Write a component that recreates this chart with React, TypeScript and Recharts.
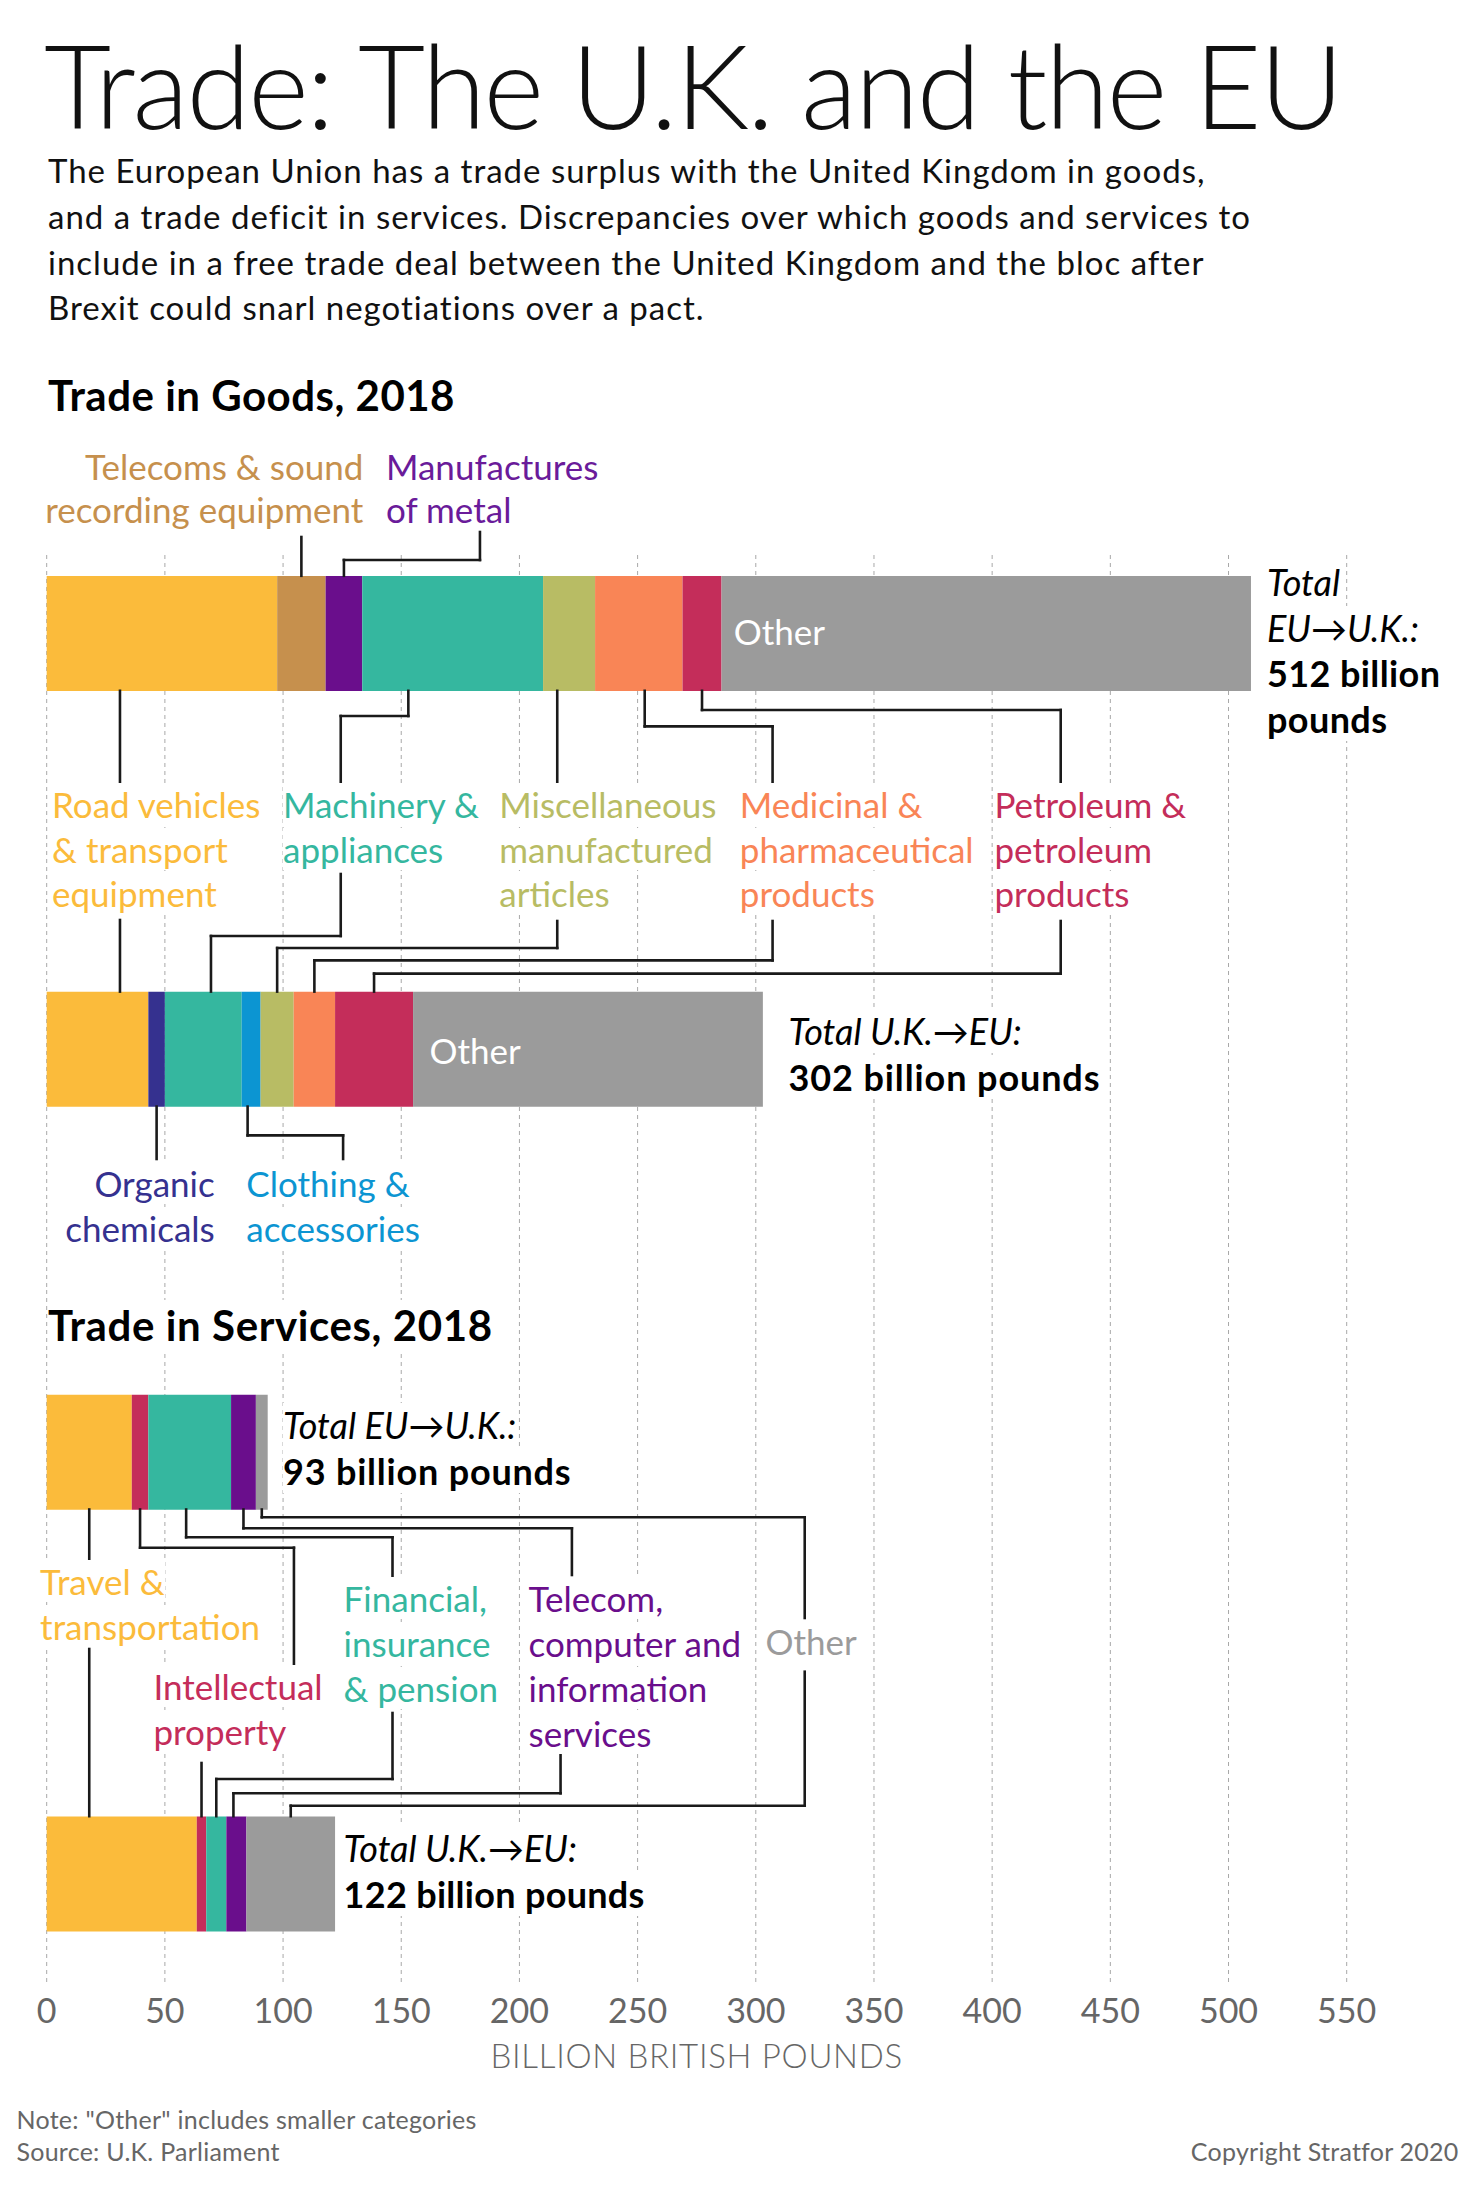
import React from "react";
import { BarChart, Bar, XAxis, YAxis, CartesianGrid, ReferenceLine } from "recharts";

const FONT = "Lato, 'Open Sans', 'DejaVu Sans', sans-serif";
const W = 1480;
const H = 2189;

// ---- data (billion British pounds, 2018) ----
const goodsKeys = ["road", "telecoms", "metal", "organic", "machinery", "clothing", "misc", "medicinal", "petroleum", "other"];
const goodsColors = ["#FBBB3B", "#C6904D", "#6A0E8C", "#35318F", "#35B79F", "#0C95D2", "#B8BC64", "#F98556", "#C42D5A", "#9B9B9B"];
const goodsEuToUk = [97.5, 20.5, 15.5, 0, 76.5, 0, 22, 37, 16.5, 224];
const goodsUkToEu = [43, 0, 0, 7, 32.5, 8, 14, 17.5, 33, 148];

const servicesKeys = ["travel", "ip", "financial", "telecom", "other"];
const servicesColors = ["#FBBB3B", "#C42D5A", "#35B79F", "#6A0E8C", "#9B9B9B"];
const servicesEuToUk = [36, 7, 35, 10.5, 5];
const servicesUkToEu = [63.5, 4, 8.5, 8.5, 37.5];

const xTicks = [0, 50, 100, 150, 200, 250, 300, 350, 400, 450, 500, 550];

// ---- layout ----
const LEFT = 46.7;
const RIGHT = W - 1346.7;
const GRID_TOP = 555;
const SPLIT = 1290;
const AXIS_Y = 1986;
const BAR = 115;
const goodsCenters = [633.3, 1049.1];
const servicesCenters = [1452, 1873.7];

function makeRow(name: string, keys: string[], values: number[]) {
  const r: Record<string, any> = { name };
  keys.forEach((k, i) => (r[k] = values[i]));
  return r;
}
function rows(keys: string[], a: number[], b: number[]) {
  const zero = keys.map(() => 0);
  return [makeRow("EU→U.K.", keys, a), makeRow("gap1", keys, zero), makeRow("gap2", keys, zero), makeRow("U.K.→EU", keys, b)];
}
// midpoint of a stacked segment
function mid(values: number[], i: number) {
  let s = 0;
  for (let j = 0; j < i; j++) s += values[j];
  return s + values[i] / 2;
}
const gi = (k: string) => goodsKeys.indexOf(k);
const si = (k: string) => servicesKeys.indexOf(k);

const gTop1 = goodsCenters[0] - BAR / 2;
const gBot1 = goodsCenters[0] + BAR / 2;
const gTop2 = goodsCenters[1] - BAR / 2;
const gBot2 = goodsCenters[1] + BAR / 2;
const sBot3 = servicesCenters[0] + BAR / 2;
const sTop4 = servicesCenters[1] - BAR / 2;

type Pt = [number, number];
const goodsLeaders: Pt[][] = [
  [[mid(goodsEuToUk, gi("telecoms")), 537], [mid(goodsEuToUk, gi("telecoms")), gTop1]],
  [[mid(goodsEuToUk, gi("metal")), gTop1], [mid(goodsEuToUk, gi("metal")), 560], [183.3, 560], [183.3, 532]],
  [[31, gBot1], [31, 784]],
  [[153, gBot1], [153, 716], [124.4, 716], [124.4, 783]],
  [[216, gBot1], [216, 784]],
  [[253, gBot1], [253, 726.4], [307.1, 726.4], [307.1, 783]],
  [[mid(goodsEuToUk, gi("petroleum")), gBot1], [mid(goodsEuToUk, gi("petroleum")), 710], [429, 710], [429, 783]],
  [[31, 920], [31, gTop2]],
  [[124.4, 874], [124.4, 936], [69.5, 936], [69.5, gTop2]],
  [[216, 921], [216, 948], [mid(goodsUkToEu, gi("misc")), 948], [mid(goodsUkToEu, gi("misc")), gTop2]],
  [[307.1, 921], [307.1, 960.4], [mid(goodsUkToEu, gi("medicinal")), 960.4], [mid(goodsUkToEu, gi("medicinal")), gTop2]],
  [[429, 921], [429, 973.6], [mid(goodsUkToEu, gi("petroleum")), 973.6], [mid(goodsUkToEu, gi("petroleum")), gTop2]],
  [[mid(goodsUkToEu, gi("organic")), gBot2], [mid(goodsUkToEu, gi("organic")), 1159]],
  [[85, gBot2], [85, 1135.4], [125.4, 1135.4], [125.4, 1159]],
];

const servicesLeaders: Pt[][] = [
  [[mid(servicesEuToUk, si("travel")), sBot3], [mid(servicesEuToUk, si("travel")), 1567]],
  [[mid(servicesEuToUk, si("travel")), 1649], [mid(servicesEuToUk, si("travel")), sTop4]],
  [[mid(servicesEuToUk, si("ip")), sBot3], [mid(servicesEuToUk, si("ip")), 1547.7], [104.6, 1547.7], [104.6, 1675]],
  [[mid(servicesUkToEu, si("ip")), 1763], [mid(servicesUkToEu, si("ip")), sTop4]],
  [[59, sBot3], [59, 1537.3], [146.3, 1537.3], [146.3, 1580]],
  [[146.3, 1713], [146.3, 1779], [mid(servicesUkToEu, si("financial")), 1779], [mid(servicesUkToEu, si("financial")), sTop4]],
  [[mid(servicesEuToUk, si("telecom")), sBot3], [mid(servicesEuToUk, si("telecom")), 1528.3], [222.2, 1528.3], [222.2, 1575]],
  [[217.4, 1752.7], [217.4, 1793.3], [79, 1793.3], [79, sTop4]],
  [[mid(servicesEuToUk, si("other")), sBot3], [mid(servicesEuToUk, si("other")), 1517.3], [320.7, 1517.3], [320.7, 1618]],
  [[320.7, 1671.7], [320.7, 1805.7], [mid(servicesUkToEu, si("other")), 1805.7], [mid(servicesUkToEu, si("other")), sTop4]],
];

interface SectionProps {
  keys: string[];
  colors: string[];
  data: Record<string, any>[];
  centers: number[];
  top: number;
  bottom: number;
  leaders: Pt[][];
  showAxis: boolean;
}

function Section({ keys, colors, data, centers, top, bottom, leaders, showAxis }: SectionProps) {
  const band = (centers[1] - centers[0]) / 3;
  const padTop = centers[0] - band / 2 - top;
  const padBottom = bottom - (top + padTop + 4 * band);
  const axisH = showAxis ? 30 : 0;
  return (
    <div style={{ position: "absolute", left: 0, top: 0 }}>
      <BarChart
        width={W}
        height={H}
        data={data}
        layout="vertical"
        margin={{ top, bottom: H - bottom - axisH, left: LEFT, right: RIGHT }}
      >
        <CartesianGrid horizontal={false} strokeDasharray="4 4" stroke="#a8a8a8" />
        <XAxis
          type="number"
          domain={[0, 550]}
          ticks={xTicks}
          hide={!showAxis}
          height={30}
          axisLine={false}
          tickLine={false}
          tickSize={6}
          tickMargin={7}
          tick={{ fill: "#666", fontSize: 34, fontFamily: FONT, fontWeight: 400 }}
        />
        <YAxis yAxisId="cat" type="category" dataKey="name" hide padding={{ top: padTop, bottom: padBottom }} />
        {/* helper axis for the leader lines: value = vertical page position */}
        <YAxis yAxisId="ann" type="number" dataKey="annY" domain={[top, bottom]} hide allowDataOverflow />
        {keys.map((k, i) => (
          <Bar key={k} dataKey={k} stackId="s" yAxisId="cat" fill={colors[i]} barSize={BAR} isAnimationActive={false} />
        ))}
        {leaders.flatMap((path, p) =>
          path.slice(1).map((pt, j) => (
            <ReferenceLine
              key={`l${p}-${j}`}
              yAxisId="ann"
              segment={[
                { x: path[j][0], y: path[j][1] },
                { x: pt[0], y: pt[1] },
              ]}
              stroke="#1a1a1a"
              strokeWidth={2.6}
              strokeLinecap="square"
              ifOverflow="visible"
            />
          ))
        )}
      </BarChart>
    </div>
  );
}

type Line = string | { t: string; w?: number; i?: boolean; ls?: number };
interface LabelProps {
  x: number;
  base: number;
  lines: Line[];
  color?: string;
  size?: number;
  lh?: number;
  weight?: number;
  italic?: boolean;
  align?: "left" | "right";
  bg?: boolean;
  ls?: number;
}

// positions text by its first baseline (Lato metrics: ascent .987, descent .213)
function Label({ x, base, lines, color = "#111", size = 35, lh = 44.6, weight = 400, italic = false, align = "left", bg = true, ls = 0 }: LabelProps) {
  const top = base - (lh - 1.2 * size) / 2 - 0.987 * size;
  const style: React.CSSProperties = {
    position: "absolute",
    top,
    fontFamily: FONT,
    fontSize: size,
    lineHeight: `${lh}px`,
    color,
    fontWeight: weight,
    fontStyle: italic ? "italic" : "normal",
    whiteSpace: "nowrap",
    textAlign: align,
    letterSpacing: ls,
  };
  if (align === "right") style.right = W - x;
  else style.left = x;
  return (
    <div style={style}>
      {lines.map((l, i) => {
        const o = typeof l === "string" ? { t: l } : l;
        return (
          <React.Fragment key={i}>
            <span
              style={{
                background: bg ? "#fff" : undefined,
                fontWeight: o.w ?? weight,
                fontStyle: o.i === undefined ? undefined : o.i ? "italic" : "normal",
                letterSpacing: o.ls ?? ls,
              }}
            >
              {o.t}
            </span>
            {i < lines.length - 1 && <br />}
          </React.Fragment>
        );
      })}
    </div>
  );
}

export default function App() {
  const goodsData = rows(goodsKeys, goodsEuToUk, goodsUkToEu);
  const servicesData = rows(servicesKeys, servicesEuToUk, servicesUkToEu);
  return (
    <div style={{ position: "absolute", left: 0, top: 0, width: W, height: H, background: "#fff", overflow: "hidden", fontFamily: FONT }}>
      <Section keys={goodsKeys} colors={goodsColors} data={goodsData} centers={goodsCenters} top={GRID_TOP} bottom={SPLIT} leaders={goodsLeaders} showAxis={false} />
      <Section keys={servicesKeys} colors={servicesColors} data={servicesData} centers={servicesCenters} top={SPLIT} bottom={AXIS_Y} leaders={servicesLeaders} showAxis />

      <Label x={44} base={130} size={116} lh={130} weight={300} color="#111" bg={false} ls={-2.2} lines={["Trade: The U.K. and the EU"]} />
      <Label
        x={48}
        base={184}
        size={33}
        lh={45.7}
        color="#111"
        bg={false}
        ls={1}
        lines={[
          "The European Union has a trade surplus with the United Kingdom in goods,",
          "and a trade deficit in services. Discrepancies over which goods and services to",
          "include in a free trade deal between the United Kingdom and the bloc after",
          "Brexit could snarl negotiations over a pact.",
        ]}
      />
      <Label x={48} base={411.7} size={42} lh={50} weight={700} color="#000" ls={0.5} lines={["Trade in Goods, 2018"]} />
      <Label x={48} base={1341} size={42} lh={50} weight={700} color="#000" ls={0.6} lines={["Trade in Services, 2018"]} />

      {/* goods labels */}
      <Label x={363.4} base={480} align="right" color="#C6904D" lh={43.3} lines={["Telecoms & sound", "recording equipment"]} />
      <Label x={386} base={480} color="#6A1B9A" lh={43.3} lines={["Manufactures", "of metal"]} />
      <Label x={52} base={818} color="#FBBB3B" lines={["Road vehicles", "& transport", "equipment"]} />
      <Label x={283} base={818} color="#35B79F" lines={["Machinery &", "appliances"]} />
      <Label x={499.3} base={818} color="#B8BC64" lines={["Miscellaneous", "manufactured", "articles"]} />
      <Label x={739.8} base={818} color="#F98556" lines={["Medicinal &", "pharmaceutical", "products"]} />
      <Label x={994.5} base={818} color="#C42D5A" lines={["Petroleum &", "petroleum", "products"]} />
      <Label x={214.7} base={1196.8} align="right" color="#35318F" lines={["Organic", "chemicals"]} />
      <Label x={246.3} base={1196.8} color="#0C95D2" lines={["Clothing &", "accessories"]} />
      <Label x={733.8} base={645} color="#fff" bg={false} lines={["Other"]} />
      <Label x={429.5} base={1063.6} color="#fff" bg={false} lines={["Other"]} />

      <Label
        x={1267}
        base={596.7}
        size={36}
        lh={45.5}
        color="#000"
        lines={[{ t: "Total", i: true }, { t: "EU→U.K.:", i: true }, { t: "512 billion", w: 700, ls: 0.4 }, { t: "pounds", w: 700, ls: 0.4 }]}
      />
      <Label x={788.5} base={1045} size={36} lh={46} color="#000" lines={[{ t: "Total U.K.→EU:", i: true }, { t: "302 billion pounds", w: 700, ls: 0.9 }]} />

      {/* services labels */}
      <Label x={283} base={1439} size={36} lh={46} color="#000" lines={[{ t: "Total EU→U.K.:", i: true }, { t: "93 billion pounds", w: 700, ls: 0.8 }]} />
      <Label x={343.6} base={1861.7} size={36} lh={46} color="#000" lines={[{ t: "Total U.K.→EU:", i: true }, { t: "122 billion pounds", w: 700, ls: 0.3 }]} />
      <Label x={40.1} base={1595} color="#FBBB3B" lh={44.5} lines={["Travel &", "transportation"]} />
      <Label x={153.4} base={1700} color="#C42D5A" lh={45} lines={["Intellectual", "property"]} />
      <Label x={343.6} base={1611.7} color="#35B79F" lh={45} lines={["Financial,", "insurance", "& pension"]} />
      <Label x={528.5} base={1611.7} color="#6A0E8C" lh={45} lines={["Telecom,", "computer and", "information", "services"]} />
      <Label x={765.5} base={1655} color="#9B9B9B" lines={["Other"]} />

      {/* axis title and footer */}
      <div style={{ position: "absolute", left: LEFT, width: 1346.7 - LEFT, top: 2073 - 43, textAlign: "center", fontSize: 33, lineHeight: "50px", color: "#666", fontWeight: 300, letterSpacing: 0.7 }}>
        BILLION BRITISH POUNDS
      </div>
      <Label x={16.5} base={2130} size={25} lh={31.7} color="#666" bg={false} ls={0.25} lines={['Note: "Other" includes smaller categories', "Source: U.K. Parliament"]} />
      <Label x={1458.6} base={2161.7} size={25} lh={31.7} color="#666" bg={false} ls={0.25} align="right" lines={["Copyright Stratfor 2020"]} />
    </div>
  );
}
